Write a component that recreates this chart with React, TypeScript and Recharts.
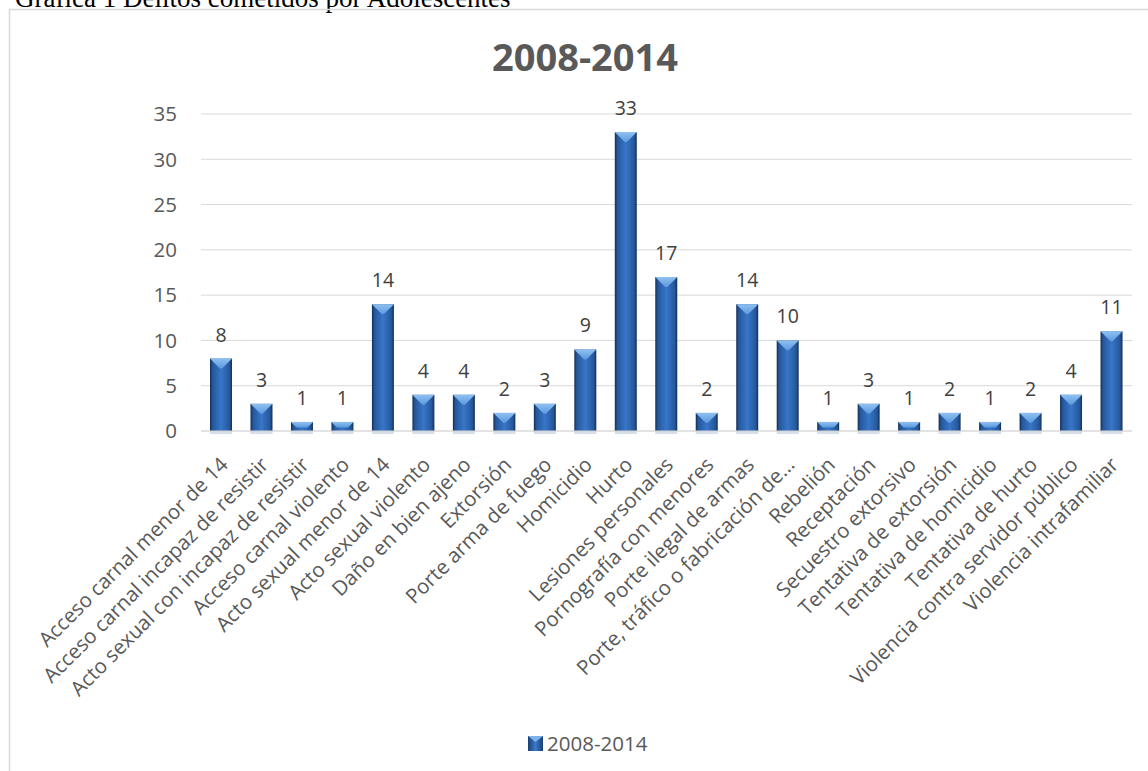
import React from 'react';
import { BarChart, Bar, XAxis, YAxis, CartesianGrid, LabelList, Legend } from 'recharts';

const categories = [
  'Acceso carnal menor de 14',
  'Acceso carnal incapaz de resistir',
  'Acto sexual con incapaz de resistir',
  'Acceso carnal violento',
  'Acto sexual menor de 14',
  'Acto sexual violento',
  'Daño en bien ajeno',
  'Extorsión',
  'Porte arma de fuego',
  'Homicidio',
  'Hurto',
  'Lesiones personales',
  'Pornografía con menores',
  'Porte ilegal de armas',
  'Porte, tráfico o fabricación de...',
  'Rebelión',
  'Receptación',
  'Secuestro extorsivo',
  'Tentativa de extorsión',
  'Tentativa de homicidio',
  'Tentativa de hurto',
  'Violencia contra servidor público',
  'Violencia intrafamiliar',
];

const counts = [8, 3, 1, 1, 14, 4, 4, 2, 3, 9, 33, 17, 2, 14, 10, 1, 3, 1, 2, 1, 2, 4, 11];

const yTicks = [0, 5, 10, 15, 20, 25, 30, 35];

const seriesName = '2008-2014';
const chartTitle = '2008-2014';
const pageCaption = 'Gráfica 1 Delitos cometidos por Adolescentes';

const data = categories.map((name, i) => ({ name, value: counts[i] }));

const FONT = '"Open Sans", sans-serif';
const TEXT = '#595959';
const GRID = '#d9d9d9';

// bar with the excel-ish bevel: dark sides, lighter middle, light wedge on top
const BevelBar = (props: any) => {
  const { x, y, width, height } = props;
  if (!height || height <= 0) return null;
  const b = Math.min(width * 0.45, height * 0.6);
  return (
    <g>
      <rect x={x} y={y + height} width={width} height={3} fill="#c5d0de" opacity={0.7} />
      <rect x={x} y={y} width={width} height={height} fill="url(#barBody)" />
      <polygon
        points={`${x},${y} ${x + width},${y} ${x + width - b},${y + b} ${x + b},${y + b}`}
        fill="url(#barTop)"
      />
    </g>
  );
};

const SlantTick = ({ x, y, payload }: any) => (
  <g transform={`translate(${x + 8},${y + 35})`}>
    <text textAnchor="end" transform="rotate(-45)" fontSize={20.5} fontFamily={FONT} fill={TEXT}>
      {payload.value}
    </text>
  </g>
);

const LegendContent = () => (
  <div
    style={{
      display: 'flex',
      alignItems: 'center',
      height: 24,
      fontFamily: FONT,
      fontSize: 20.5,
      color: TEXT,
      whiteSpace: 'nowrap',
    }}
  >
    <svg width={15} height={15} style={{ marginRight: 4 }}>
      <rect x={0} y={0} width={15} height={15} fill="url(#legendBody)" />
      <polygon points="0,0 15,0 7.5,6" fill="#7db2ea" />
    </svg>
    <span>{seriesName}</span>
  </div>
);

export default function App() {
  return (
    <div
      style={{
        position: 'absolute',
        left: 0,
        top: 0,
        width: 1148,
        height: 771,
        overflow: 'hidden',
        background: '#fff',
      }}
    >
      <svg
        width={1148}
        height={771}
        style={{ position: 'absolute', left: 0, top: 0, pointerEvents: 'none' }}
      >
        <defs>
          <linearGradient id="legendBody" x1="0" y1="0" x2="1" y2="0">
            <stop offset="0%" stopColor="#1b3f70" />
            <stop offset="50%" stopColor="#3a7acb" />
            <stop offset="100%" stopColor="#1b3f70" />
          </linearGradient>
        </defs>
        <text x={15} y={7} fontFamily='"Liberation Serif", serif' fontSize={27} fill="#000">
          {pageCaption}
        </text>
        <rect x={9.5} y={9.5} width={1200} height={800} fill="none" stroke={GRID} strokeWidth={1.5} />
        <text
          x={585}
          y={71}
          textAnchor="middle"
          fontFamily={FONT}
          fontWeight={700}
          fontSize={38}
          fill={TEXT}
        >
          {chartTitle}
        </text>
      </svg>
      <div style={{ position: 'absolute', left: 0, top: 0 }}>
        <BarChart
          width={1148}
          height={771}
          data={data}
          margin={{ top: 114, right: 16, left: 0, bottom: 0 }}
        >
          <defs>
            <linearGradient id="barBody" x1="0" y1="0" x2="1" y2="0">
              <stop offset="0%" stopColor="#142f55" />
              <stop offset="12%" stopColor="#25589c" />
              <stop offset="50%" stopColor="#3876c8" />
              <stop offset="88%" stopColor="#25589c" />
              <stop offset="100%" stopColor="#142f55" />
            </linearGradient>
            <linearGradient id="barTop" x1="0" y1="0" x2="0" y2="1">
              <stop offset="0%" stopColor="#8fc0f0" />
              <stop offset="100%" stopColor="#5d9ae0" />
            </linearGradient>
          </defs>
          <CartesianGrid vertical={false} stroke={GRID} />
          <XAxis
            dataKey="name"
            interval={0}
            height={316}
            tickLine={false}
            tickSize={0}
            tickMargin={0}
            axisLine={{ stroke: GRID }}
            tick={<SlantTick />}
          />
          <YAxis
            width={201}
            domain={[0, 35]}
            ticks={yTicks}
            axisLine={false}
            tickLine={false}
            tickSize={0}
            tickMargin={24}
            tick={{ fontSize: 20.5, fill: TEXT, fontFamily: FONT }}
          />
          <Legend
            verticalAlign="bottom"
            content={<LegendContent />}
            wrapperStyle={{ left: 528, top: 731, width: 'auto' }}
          />
          <Bar
            dataKey="value"
            name={seriesName}
            barSize={22}
            shape={<BevelBar />}
            isAnimationActive={false}
          >
            <LabelList
              dataKey="value"
              position="top"
              offset={17}
              fill="#404040"
              fontSize={19.5}
              fontFamily={FONT}
            />
          </Bar>
        </BarChart>
      </div>
    </div>
  );
}
